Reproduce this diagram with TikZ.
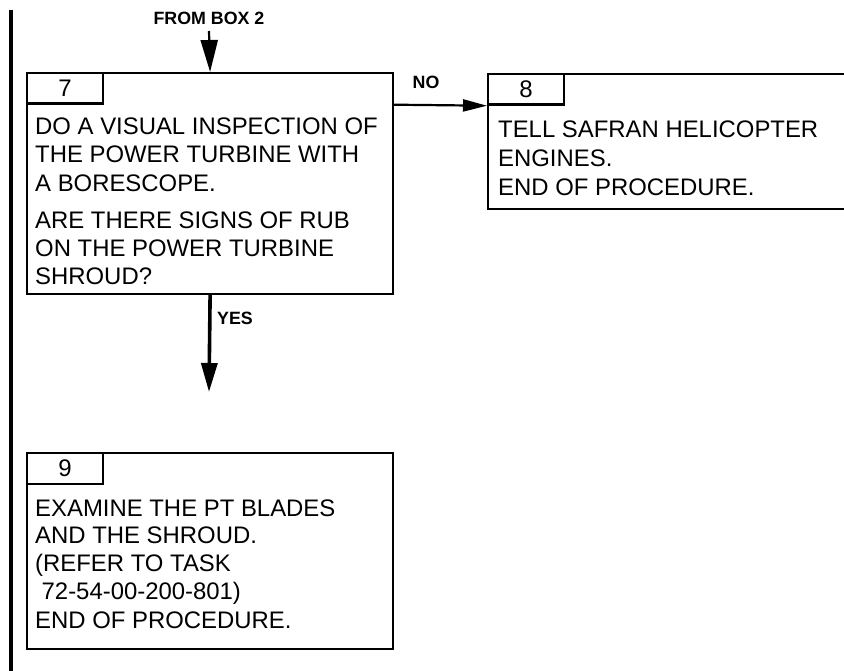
\documentclass[tikz,border=0pt]{standalone}
\usepackage{fontspec}
\setmainfont{Liberation Sans}
\usetikzlibrary{arrows.meta}
\begin{document}
\begin{tikzpicture}[x=1pt,y=-1pt,
  boxframe/.style={draw, line width=2.2pt, rectangle, inner sep=0pt, anchor=north west},
  tabbox/.style={draw, line width=2.2pt, rectangle, inner sep=0pt, anchor=north west,
    minimum width=76pt, minimum height=30.5pt, font=\fontsize{24}{28}\selectfont},
  body/.style={anchor=base west, inner sep=0pt, font=\fontsize{23.9}{28}\selectfont},
  lbl/.style={inner sep=0pt, font=\fontsize{17.8}{20}\selectfont\bfseries},
  thinarrow/.style={line width=2.2pt, -{Triangle[length=32pt,width=17pt]}},
  noarrow/.style={line width=2.2pt, -{Triangle[length=24pt,width=12pt]}},
  yesarrow/.style={line width=3.6pt, -{Triangle[length=29pt,width=16pt]}}
]
\useasboundingbox (0,0) rectangle (844,671);

% change bar
\coordinate (bartop) at (10.5,10);
\coordinate (barbot) at (10.5,671);
\draw[line width=4pt] (bartop) -- (barbot);

% box 7
\node[boxframe, minimum width=366pt, minimum height=221pt] (b7) at (26,72) {};
\node[tabbox] (t7) at (b7.north west) {7};
\node[body] (l71) at (35,134.3) {DO A VISUAL INSPECTION OF};
\node[body] (l72) at (35,162.7) {THE POWER TURBINE WITH};
\node[body] (l73) at (35,191.2) {A BORESCOPE.};
\node[body] (l74) at (35,228.3) {ARE THERE SIGNS OF RUB};
\node[body] (l75) at (35,256.7) {ON THE POWER TURBINE};
\node[body] (l76) at (35,285) {SHROUD?};

% box 8 (right edge runs past the page)
\node[boxframe, minimum width=372pt, minimum height=135pt] (b8) at (487,73) {};
\node[tabbox] (t8) at (b8.north west) {8};
\node[body] (l81) at (498,137.5) {TELL SAFRAN HELICOPTER};
\node[body] (l82) at (498,167) {ENGINES.};
\node[body] (l83) at (498,196) {END OF PROCEDURE.};

% box 9
\node[boxframe, minimum width=366pt, minimum height=196pt] (b9) at (26,452) {};
\node[tabbox] (t9) at (b9.north west) {9};
\node[body] (l91) at (35,516.7) {EXAMINE THE PT BLADES};
\node[body] (l92) at (35,543.5) {AND THE SHROUD.};
\node[body] (l93) at (35,571) {(REFER TO TASK};
\node[body] (l94) at (35,599.5) {\hspace*{6.5pt}72-54-00-200-801)};
\node[body] (l95) at (35,628) {END OF PROCEDURE.};

% connectors
\node[lbl] (from2) at (209,18) {FROM BOX 2};
\coordinate (f2) at (209,31);
\draw[thinarrow] (f2) -- (b7.north);

\node[lbl] (nolbl) at (426,82) {NO};
\draw[noarrow] (t7.south -| b7.east) -- (t8.south -| b8.west);

\node[lbl] (yeslbl) at (235,318) {YES};
\coordinate (yesend) at (209,392);
\draw[yesarrow] (b7.south) -- (yesend);
\end{tikzpicture}
\end{document}
